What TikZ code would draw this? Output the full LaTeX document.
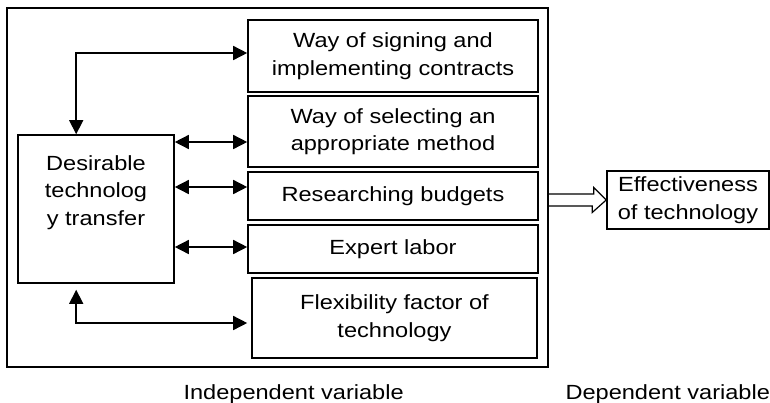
\documentclass[tikz,border=0pt]{standalone}
\usepackage{fontspec}
\setmainfont[FakeStretch=1.15]{Liberation Sans}
\usetikzlibrary{arrows.meta}

\begin{document}
\begin{tikzpicture}[x=1pt,y=-1pt,
	every node/.style={font=\fontsize{20.5pt}{27.5pt}\selectfont},
	varbox/.style={draw,line width=1.6pt,align=center,inner sep=0pt},
	link/.style={line width=1.5pt,{Triangle[length=14pt,width=14pt]}-{Triangle[length=14pt,width=14pt]}}]
				\useasboundingbox (0,0) rectangle (770,402);
				
				\node (frame) at (277.5,187.5) [varbox,minimum width=541pt,minimum height=359pt] {};
				\node (sign) at (393,56) [varbox,minimum width=290pt,minimum height=72pt] {Way of signing and\\implementing contracts};
				\node (select) at (393,131.5) [varbox,minimum width=290pt,minimum height=71pt] {Way of selecting an\\appropriate method};
				\node (budget) at (393,196) [varbox,minimum width=290pt,minimum height=48pt] {Researching budgets};
				\node (labor) at (393,249) [varbox,minimum width=290pt,minimum height=48pt] {Expert labor};
				\node (flex) at (394.5,318) [varbox,minimum width=285pt,minimum height=80pt] {Flexibility factor of\\technology};
				\node (transfer) at (96,209) [varbox,minimum width=156pt,minimum height=148pt,
					label={[anchor=north,align=center,inner sep=0pt,yshift=-21pt]north:Desirable\\technolog\\y transfer}] {};
				\node (effect) at (688,200) [varbox,minimum width=162pt,minimum height=58pt] {Effectiveness\\of technology};
				
				\node (indep) at (180,399) [anchor=base west] {Independent variable};
				\node (dep) at (562,399) [anchor=base west] {Dependent variable};
				
				\coordinate (c1) at ([yshift=3pt]sign.west);
				\coordinate (c2) at ([yshift=-10.5pt]select.west);
				\coordinate (c3) at ([yshift=9pt]budget.west);
				\coordinate (c4) at ([yshift=2pt]labor.west);
				\coordinate (c5) at ([yshift=-5pt]flex.west);
				
				\draw[link] ([xshift=59pt]transfer.north west) |- (c1);
				\draw[link] (c2 -| transfer.east) -- (c2);
				\draw[link] (c3 -| transfer.east) -- (c3);
				\draw[link] (c4 -| transfer.east) -- (c4);
				\draw[link,shorten <=6pt,shorten >=4pt] ([xshift=59pt]transfer.south west) |- (c5);
				
				\draw[line width=1.2pt,line join=miter] (frame.east |- effect.west) ++(0,6pt) -- ++(45pt,0) -- ++(0,6.5pt)
					-- (effect.west) -- ++(-14pt,-12.5pt) -- ++(0,6.5pt) -- ++(-45pt,0);
			\end{tikzpicture}
\end{document}
